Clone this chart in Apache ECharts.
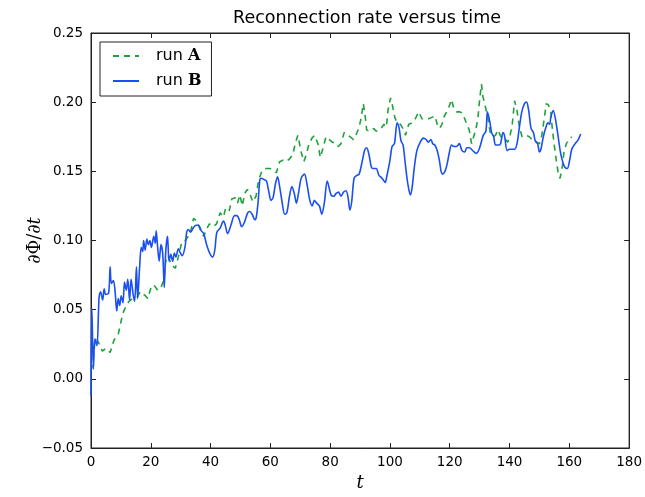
<!DOCTYPE html>
<html>
<head>
<meta charset="utf-8">
<script src="https://cdn.jsdelivr.net/npm/echarts@6/dist/echarts.min.js"></script>
<style>
html,body{margin:0;padding:0;background:#fff;}
#chart{width:645px;height:497px;}
</style>
</head>
<body>
<div id="chart"></div>
<script>
// ---- data ----
const xTicks = [0, 20, 40, 60, 80, 100, 120, 140, 160, 180];
const yTicks = [-0.05, 0.00, 0.05, 0.10, 0.15, 0.20, 0.25];
const seriesNames = ['run A', 'run B'];

const tA = [0, 0.7, 1.3, 1.9, 3.0, 3.8, 5.0, 6.4, 7.7, 9.1, 9.9, 10.6, 11.6, 12.7, 13.8, 15.4, 16.5, 18.2, 19.0, 19.9, 21.0, 22.3, 23.4, 24.3, 25.0, 25.7, 27.0, 28.2, 29.2, 30.4, 31.5, 33.2, 34.3, 35.4, 36.5, 37.7, 38.6, 39.6, 40.8, 42.0, 43.2, 44.3, 45.0, 46.2, 47.1, 48.2, 49.0, 49.8, 50.6, 51.4, 52.3, 53.1, 54.1, 55.2, 56.1, 57.3, 58.5, 59.8, 60.9, 62.0, 63.1, 64.2, 65.3, 66.4, 67.5, 68.3, 69.2, 70.3, 71.2, 72.0, 72.8, 73.9, 74.8, 75.9, 76.7, 77.5, 78.6, 79.7, 80.8, 81.9, 82.7, 83.6, 84.7, 85.8, 86.7, 87.8, 88.6, 89.7, 90.4, 91.1, 91.7, 92.2, 93.0, 93.8, 94.6, 95.4, 96.2, 97.0, 98.0, 98.8, 99.4, 100.2, 100.9, 101.6, 102.4, 103.5, 104.6, 105.2, 106.3, 107.4, 108.5, 109.6, 110.7, 111.8, 112.9, 114.0, 115.1, 115.8, 116.6, 117.4, 118.2, 119.5, 120.6, 121.4, 122.3, 123.4, 124.3, 125.0, 125.7, 126.5, 127.3, 127.8, 128.7, 129.4, 130.0, 130.6, 131.1, 132.0, 132.8, 133.6, 134.5, 135.3, 136.1, 136.9, 137.8, 138.7, 139.4, 140.2, 140.9, 141.7, 142.5, 143.3, 144.2, 145.0, 145.7, 146.6, 147.5, 148.3, 149.1, 150.0, 150.8, 151.6, 152.3, 153.0, 153.8, 154.3, 154.9, 155.7, 156.4, 156.9, 157.7, 158.2, 159.0, 159.9, 160.8];
const runA = [0.006, 0.012, 0.027, 0.029, 0.024, 0.020, 0.022, 0.019, 0.028, 0.032, 0.040, 0.047, 0.052, 0.056, 0.058, 0.059, 0.063, 0.060, 0.058, 0.065, 0.068, 0.064, 0.066, 0.071, 0.085, 0.089, 0.082, 0.080, 0.088, 0.099, 0.100, 0.105, 0.116, 0.114, 0.108, 0.103, 0.108, 0.112, 0.110, 0.112, 0.120, 0.117, 0.123, 0.121, 0.130, 0.131, 0.127, 0.133, 0.125, 0.134, 0.137, 0.134, 0.128, 0.132, 0.144, 0.151, 0.152, 0.152, 0.151, 0.149, 0.157, 0.158, 0.157, 0.159, 0.162, 0.170, 0.176, 0.164, 0.157, 0.162, 0.169, 0.174, 0.176, 0.170, 0.160, 0.166, 0.175, 0.173, 0.171, 0.170, 0.168, 0.170, 0.178, 0.176, 0.175, 0.173, 0.176, 0.182, 0.189, 0.199, 0.190, 0.180, 0.179, 0.180, 0.181, 0.179, 0.180, 0.181, 0.184, 0.182, 0.195, 0.203, 0.197, 0.189, 0.185, 0.184, 0.180, 0.176, 0.184, 0.185, 0.188, 0.193, 0.188, 0.188, 0.188, 0.189, 0.190, 0.184, 0.181, 0.184, 0.190, 0.195, 0.202, 0.195, 0.193, 0.193, 0.192, 0.188, 0.184, 0.180, 0.170, 0.171, 0.180, 0.188, 0.202, 0.213, 0.204, 0.196, 0.188, 0.177, 0.175, 0.176, 0.180, 0.176, 0.173, 0.173, 0.171, 0.176, 0.184, 0.201, 0.194, 0.182, 0.175, 0.176, 0.176, 0.175, 0.173, 0.173, 0.171, 0.170, 0.176, 0.188, 0.199, 0.198, 0.193, 0.181, 0.170, 0.157, 0.147, 0.145, 0.154, 0.164, 0.170, 0.173, 0.175];

const tB = [0, 0.3, 0.8, 1.3, 2.0, 2.7, 3.2, 3.9, 4.4, 4.9, 5.9, 6.4, 6.8, 7.5, 8.1, 8.6, 9.1, 9.6, 10.1, 10.7, 11.2, 11.8, 12.3, 12.9, 13.4, 14.1, 14.6, 15.2, 15.6, 16.3, 16.8, 17.3, 17.6, 18.1, 18.7, 19.2, 19.7, 20.2, 21.0, 21.5, 21.8, 22.3, 22.8, 23.4, 24.0, 24.5, 25.0, 25.6, 26.1, 26.7, 27.3, 27.9, 28.4, 29.2, 29.9, 30.5, 31.5, 32.0, 32.6, 33.3, 34.2, 35.1, 36.0, 36.9, 37.7, 38.8, 39.9, 40.7, 41.4, 42.1, 43.2, 44.3, 44.8, 45.7, 46.8, 48.0, 48.8, 49.6, 50.4, 51.3, 52.4, 53.1, 53.9, 54.8, 55.3, 55.9, 56.5, 57.0, 57.9, 58.7, 59.5, 60.2, 60.9, 61.7, 62.4, 63.1, 63.9, 64.8, 65.5, 66.4, 67.2, 68.0, 68.7, 69.4, 70.3, 71.4, 72.3, 73.2, 74.0, 74.7, 75.5, 76.4, 77.2, 78.1, 79.0, 80.3, 81.2, 82.0, 82.8, 83.6, 84.5, 85.3, 86.0, 86.6, 87.2, 88.0, 88.9, 89.7, 90.8, 91.5, 92.2, 93.0, 93.8, 94.6, 95.4, 96.3, 96.9, 97.7, 98.4, 99.0, 100.0, 100.7, 101.5, 102.4, 103.0, 103.7, 104.4, 105.0, 105.7, 106.3, 106.8, 107.4, 108.1, 109.0, 110.1, 111.2, 112.1, 112.8, 113.7, 114.3, 115.0, 115.8, 116.6, 117.1, 117.6, 118.4, 119.1, 119.9, 120.6, 121.4, 122.3, 123.2, 124.1, 125.0, 125.7, 126.6, 127.7, 128.9, 130.0, 131.2, 132.1, 132.6, 133.4, 134.0, 134.7, 135.3, 136.3, 137.0, 137.8, 138.3, 139.2, 140.0, 140.9, 141.7, 142.5, 143.3, 144.1, 145.0, 145.7, 146.4, 147.2, 148.0, 148.6, 149.4, 150.0, 150.5, 151.3, 152.2, 152.8, 153.4, 153.8, 154.6, 155.5, 156.4, 157.1, 157.9, 158.5, 159.3, 160.1, 160.8, 161.6, 162.3, 163.0, 163.8];
const runB = [-0.012, 0.051, 0.007, 0.029, 0.024, 0.059, 0.063, 0.057, 0.065, 0.061, 0.062, 0.081, 0.069, 0.071, 0.062, 0.049, 0.058, 0.053, 0.060, 0.055, 0.070, 0.064, 0.072, 0.057, 0.072, 0.061, 0.056, 0.081, 0.058, 0.082, 0.095, 0.092, 0.100, 0.093, 0.101, 0.097, 0.100, 0.095, 0.103, 0.098, 0.107, 0.095, 0.085, 0.097, 0.090, 0.066, 0.092, 0.103, 0.085, 0.090, 0.085, 0.091, 0.088, 0.094, 0.091, 0.089, 0.096, 0.106, 0.108, 0.106, 0.109, 0.111, 0.111, 0.107, 0.105, 0.096, 0.090, 0.088, 0.093, 0.106, 0.109, 0.114, 0.112, 0.105, 0.111, 0.118, 0.118, 0.115, 0.110, 0.113, 0.120, 0.121, 0.119, 0.115, 0.117, 0.128, 0.144, 0.145, 0.144, 0.143, 0.135, 0.129, 0.131, 0.141, 0.146, 0.139, 0.128, 0.119, 0.120, 0.132, 0.139, 0.134, 0.127, 0.134, 0.145, 0.148, 0.140, 0.129, 0.125, 0.129, 0.127, 0.125, 0.119, 0.128, 0.143, 0.133, 0.132, 0.134, 0.135, 0.132, 0.135, 0.136, 0.131, 0.122, 0.128, 0.145, 0.147, 0.148, 0.158, 0.165, 0.167, 0.162, 0.153, 0.152, 0.152, 0.147, 0.146, 0.144, 0.142, 0.147, 0.158, 0.168, 0.170, 0.185, 0.182, 0.172, 0.169, 0.158, 0.145, 0.137, 0.133, 0.138, 0.152, 0.165, 0.171, 0.174, 0.173, 0.171, 0.173, 0.170, 0.169, 0.165, 0.157, 0.150, 0.148, 0.150, 0.155, 0.164, 0.169, 0.168, 0.168, 0.170, 0.165, 0.164, 0.167, 0.167, 0.165, 0.163, 0.167, 0.176, 0.179, 0.193, 0.186, 0.178, 0.175, 0.169, 0.169, 0.170, 0.178, 0.176, 0.165, 0.166, 0.166, 0.166, 0.170, 0.182, 0.193, 0.199, 0.200, 0.194, 0.181, 0.178, 0.172, 0.170, 0.164, 0.166, 0.175, 0.182, 0.185, 0.184, 0.189, 0.194, 0.186, 0.173, 0.163, 0.156, 0.153, 0.152, 0.158, 0.166, 0.169, 0.171, 0.173, 0.177];

// ---- chart ----
const pairs = (ts, vs) => ts.map((t, i) => [t, vs[i]]);
const fmtY = v => (v < 0 ? '\u2212' : '') + Math.abs(v).toFixed(2);
const yMin = yTicks[0], yMax = yTicks[yTicks.length - 1];
const yStep = +(yTicks[1] - yTicks[0]).toFixed(4);
const xMin = xTicks[0], xMax = xTicks[xTicks.length - 1];
const xStep = xTicks[1] - xTicks[0];

const chart = echarts.init(document.getElementById('chart'), null, {renderer: 'canvas'});
const axisLine = {show: true, onZero: false, lineStyle: {color: '#222', width: 1}};
const axisTick = {show: true, inside: true, length: 5, lineStyle: {color: '#222', width: 1}};
const labelFont = {color: '#000', fontFamily: 'DejaVu Sans', fontSize: 13.5};

chart.setOption({
  animation: false,
  backgroundColor: '#fff',
  title: {
    text: 'Reconnection rate versus time',
    left: 362, top: 4, textAlign: 'center',
    textStyle: {fontFamily: 'DejaVu Sans', fontWeight: 'normal', fontSize: 17.5, color: '#000'}
  },
  legend: {
    data: seriesNames,
    orient: 'vertical',
    left: 100, top: 42,
    padding: [6, 10, 7, 12],
    itemGap: 9,
    itemWidth: 26, itemHeight: 16,
    borderColor: '#222', borderWidth: 1,
    backgroundColor: '#fff',
    itemStyle: {opacity: 0},
    formatter: n => n.split(' ')[0] + ' {b|' + n.split(' ')[1] + '}',
    textStyle: {
      fontFamily: 'DejaVu Sans', fontSize: 16, color: '#000', padding: [0, 0, 0, 12],
      rich: {b: {fontFamily: 'DejaVu Serif', fontWeight: 'bold', fontSize: 16, color: '#000'}}
    }
  },
  grid: {left: 91, right: 11, top: 33, bottom: 44, containLabel: false,
         show: true, borderColor: '#222', borderWidth: 1},
  xAxis: [
    {
      type: 'value', min: xMin, max: xMax, interval: xStep, position: 'bottom',
      name: 't', nameLocation: 'middle', nameGap: 26, nameMoveOverlap: false,
      nameTextStyle: {fontFamily: 'DejaVu Serif', fontStyle: 'italic', fontSize: 18, color: '#000'},
      axisLine: axisLine, axisTick: axisTick, splitLine: {show: false},
      axisLabel: Object.assign({margin: 7}, labelFont)
    },
    {
      type: 'value', min: xMin, max: xMax, interval: xStep, position: 'top',
      axisLine: axisLine, axisTick: axisTick, splitLine: {show: false},
      axisLabel: {show: false}
    }
  ],
  yAxis: [
    {
      type: 'value', min: yMin, max: yMax, interval: yStep, position: 'left',
      name: '{a|\u2202\u03A6/\u2202}{i|t}', nameLocation: 'middle', nameGap: 47, nameRotate: 90,
      nameMoveOverlap: false,
      nameTextStyle: {
        rich: {
          a: {fontFamily: 'DejaVu Serif', fontSize: 18, color: '#000'},
          i: {fontFamily: 'DejaVu Serif', fontStyle: 'italic', fontSize: 18, color: '#000'}
        }
      },
      axisLine: axisLine, axisTick: axisTick, splitLine: {show: false},
      axisLabel: Object.assign({margin: 8, formatter: fmtY}, labelFont)
    },
    {
      type: 'value', min: yMin, max: yMax, interval: yStep, position: 'right',
      axisLine: axisLine, axisTick: axisTick, splitLine: {show: false},
      axisLabel: {show: false}
    }
  ],
  series: [
    {
      name: seriesNames[0], type: 'line', data: pairs(tA, runA),
      symbol: 'none', showSymbol: false, smooth: false,
      color: '#1fa23a',
      lineStyle: {color: '#1fa23a', width: 1.6, type: [6, 5]}
    },
    {
      name: seriesNames[1], type: 'line', data: pairs(tB, runB),
      symbol: 'none', showSymbol: false, smooth: 0.3,
      color: '#1a4ff2',
      lineStyle: {color: '#1a4ff2', width: 1.6}
    }
  ]
});
</script>
</body>
</html>
